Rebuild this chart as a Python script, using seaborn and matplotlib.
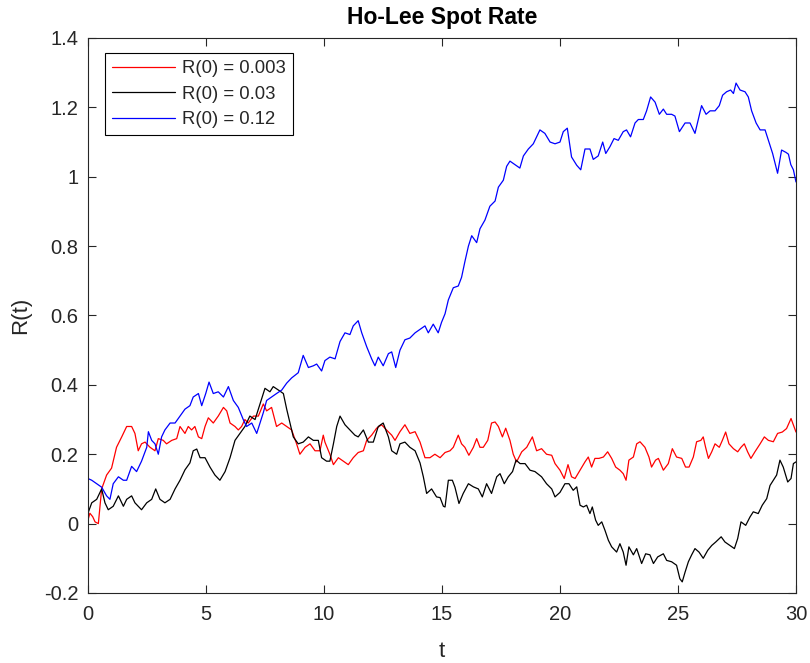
import matplotlib
matplotlib.use("Agg")
import matplotlib.pyplot as plt
import seaborn as sns
import pandas as pd

# Simulated Ho-Lee short-rate paths for three starting values
t_red = [0.00, 0.08, 0.20, 0.30, 0.44, 0.58, 0.79, 1.00, 1.21, 1.43, 1.64, 1.85, 1.99, 2.13, 2.27,
         2.42, 2.63, 2.84, 2.98, 3.19, 3.33, 3.55, 3.76, 3.90, 4.11, 4.25, 4.39, 4.53, 4.68, 4.82,
         4.96, 5.10, 5.31, 5.52, 5.74, 5.88, 6.02, 6.23, 6.37, 6.51, 6.65, 6.79, 7.01, 7.22, 7.43,
         7.57, 7.78, 7.99, 8.21, 8.42, 8.63, 8.84, 8.98, 9.20, 9.41, 9.62, 9.83, 9.97, 10.04, 10.25,
         10.40, 10.61, 10.82, 11.03, 11.24, 11.45, 11.67, 11.81, 12.02, 12.23, 12.44, 12.65, 12.87,
         13.01, 13.22, 13.43, 13.64, 13.86, 14.07, 14.28, 14.49, 14.70, 14.92, 15.13, 15.34, 15.48,
         15.69, 15.83, 15.97, 16.14, 16.33, 16.47, 16.61, 16.75, 16.94, 17.10, 17.25, 17.39, 17.56,
         17.70, 17.88, 18.02, 18.16, 18.38, 18.59, 18.83, 19.01, 19.22, 19.43, 19.65, 19.79, 20.00,
         20.18, 20.34, 20.49, 20.64, 20.85, 21.06, 21.20, 21.34, 21.48, 21.65, 21.84, 22.02, 22.19,
         22.36, 22.54, 22.68, 22.80, 22.92, 23.11, 23.25, 23.39, 23.60, 23.77, 23.88, 24.05, 24.17,
         24.38, 24.59, 24.76, 24.94, 25.16, 25.32, 25.47, 25.65, 25.79, 25.97, 26.07, 26.17, 26.29,
         26.43, 26.57, 26.75, 26.88, 27.02, 27.16, 27.35, 27.53, 27.67, 27.81, 27.95, 28.09, 28.26,
         28.48, 28.66, 28.83, 29.04, 29.22, 29.42, 29.60, 29.79, 29.89, 30.00]
r_red = [0.010, 0.030, 0.020, 0.005, 0.000, 0.100, 0.140, 0.160, 0.220, 0.250, 0.280, 0.280, 0.260,
         0.210, 0.230, 0.235, 0.220, 0.210, 0.245, 0.240, 0.230, 0.240, 0.245, 0.280, 0.260, 0.280,
         0.270, 0.280, 0.250, 0.245, 0.280, 0.305, 0.290, 0.310, 0.335, 0.325, 0.290, 0.280, 0.270,
         0.280, 0.300, 0.290, 0.310, 0.310, 0.345, 0.325, 0.335, 0.280, 0.290, 0.280, 0.270, 0.230,
         0.200, 0.220, 0.230, 0.210, 0.210, 0.255, 0.235, 0.200, 0.170, 0.190, 0.180, 0.170, 0.190,
         0.205, 0.210, 0.240, 0.255, 0.275, 0.285, 0.270, 0.255, 0.240, 0.265, 0.285, 0.260, 0.265,
         0.235, 0.190, 0.190, 0.200, 0.190, 0.205, 0.210, 0.220, 0.255, 0.230, 0.220, 0.197, 0.220,
         0.245, 0.220, 0.220, 0.240, 0.290, 0.293, 0.280, 0.250, 0.275, 0.240, 0.200, 0.178, 0.207,
         0.220, 0.250, 0.210, 0.216, 0.200, 0.197, 0.173, 0.154, 0.130, 0.170, 0.135, 0.130, 0.154,
         0.178, 0.192, 0.163, 0.188, 0.188, 0.192, 0.207, 0.188, 0.163, 0.154, 0.144, 0.125, 0.183,
         0.192, 0.230, 0.236, 0.220, 0.192, 0.163, 0.183, 0.188, 0.154, 0.173, 0.216, 0.192, 0.188,
         0.163, 0.163, 0.192, 0.236, 0.240, 0.250, 0.220, 0.188, 0.207, 0.230, 0.220, 0.240, 0.264,
         0.230, 0.216, 0.207, 0.220, 0.230, 0.207, 0.188, 0.207, 0.230, 0.250, 0.240, 0.236, 0.260,
         0.264, 0.274, 0.303, 0.284, 0.264]

t_black = [0.00, 0.16, 0.37, 0.58, 0.72, 0.86, 1.07, 1.29, 1.50, 1.64, 1.85, 1.99, 2.27, 2.49, 2.70,
           2.87, 3.05, 3.26, 3.48, 3.69, 3.90, 4.11, 4.32, 4.46, 4.61, 4.75, 4.96, 5.17, 5.38, 5.59,
           5.81, 6.02, 6.23, 6.44, 6.65, 6.86, 7.08, 7.29, 7.50, 7.71, 7.85, 8.07, 8.28, 8.42, 8.56,
           8.70, 8.91, 9.12, 9.34, 9.55, 9.76, 9.90, 10.11, 10.25, 10.40, 10.54, 10.68, 10.89, 11.10,
           11.31, 11.45, 11.67, 11.88, 12.09, 12.30, 12.51, 12.73, 12.87, 13.08, 13.22, 13.43, 13.64,
           13.86, 14.07, 14.21, 14.35, 14.56, 14.77, 14.92, 15.06, 15.13, 15.27, 15.44, 15.55, 15.72,
           15.90, 16.12, 16.33, 16.54, 16.71, 16.89, 17.10, 17.32, 17.46, 17.64, 17.81, 17.99, 18.14,
           18.31, 18.52, 18.73, 18.94, 19.22, 19.43, 19.65, 19.79, 20.00, 20.21, 20.38, 20.56, 20.71,
           20.85, 20.99, 21.13, 21.27, 21.37, 21.51, 21.62, 21.77, 21.91, 22.05, 22.19, 22.40, 22.54,
           22.68, 22.80, 22.92, 23.11, 23.25, 23.46, 23.63, 23.81, 23.96, 24.14, 24.38, 24.52, 24.73,
           24.94, 25.08, 25.18, 25.30, 25.44, 25.58, 25.72, 25.89, 26.07, 26.26, 26.43, 26.60, 26.83,
           26.99, 27.20, 27.39, 27.53, 27.67, 27.87, 28.05, 28.19, 28.40, 28.57, 28.76, 28.90, 29.04,
           29.18, 29.32, 29.46, 29.65, 29.79, 29.89, 30.00]
r_black = [0.030, 0.060, 0.070, 0.100, 0.060, 0.040, 0.050, 0.080, 0.050, 0.070, 0.080, 0.060, 0.040,
           0.060, 0.070, 0.100, 0.070, 0.060, 0.070, 0.100, 0.125, 0.155, 0.175, 0.210, 0.215, 0.190,
           0.190, 0.163, 0.140, 0.125, 0.150, 0.190, 0.240, 0.260, 0.280, 0.310, 0.300, 0.345, 0.390,
           0.380, 0.395, 0.385, 0.375, 0.330, 0.290, 0.250, 0.230, 0.235, 0.250, 0.240, 0.240, 0.190,
           0.180, 0.180, 0.230, 0.280, 0.310, 0.285, 0.270, 0.255, 0.250, 0.270, 0.235, 0.235, 0.280,
           0.290, 0.250, 0.210, 0.200, 0.230, 0.235, 0.220, 0.210, 0.175, 0.135, 0.087, 0.100, 0.077,
           0.075, 0.050, 0.048, 0.125, 0.125, 0.105, 0.058, 0.087, 0.115, 0.106, 0.100, 0.077, 0.115,
           0.087, 0.135, 0.144, 0.115, 0.135, 0.150, 0.183, 0.173, 0.173, 0.154, 0.150, 0.135, 0.115,
           0.100, 0.077, 0.090, 0.115, 0.115, 0.096, 0.106, 0.053, 0.048, 0.053, 0.029, 0.048, 0.010,
           -0.005, 0.005, -0.020, -0.048, -0.067, -0.082, -0.058, -0.082, -0.120, -0.067, -0.090,
           -0.072, -0.115, -0.087, -0.090, -0.115, -0.096, -0.087, -0.106, -0.110, -0.120, -0.159,
           -0.168, -0.140, -0.110, -0.090, -0.072, -0.082, -0.100, -0.077, -0.063, -0.053, -0.038,
           -0.053, -0.063, -0.072, -0.043, 0.005, -0.005, 0.019, 0.034, 0.029, 0.053, 0.072, 0.110,
           0.125, 0.140, 0.183, 0.163, 0.120, 0.130, 0.173, 0.178]

t_blue = [0.00, 0.16, 0.37, 0.58, 0.79, 0.93, 1.07, 1.29, 1.50, 1.64, 1.85, 2.06, 2.27, 2.49, 2.56,
          2.70, 2.84, 2.98, 3.12, 3.26, 3.48, 3.69, 3.90, 4.11, 4.32, 4.46, 4.68, 4.82, 4.99, 5.13,
          5.31, 5.52, 5.74, 5.95, 6.16, 6.37, 6.58, 6.72, 6.94, 7.15, 7.29, 7.43, 7.57, 7.78, 7.99,
          8.21, 8.42, 8.63, 8.91, 9.12, 9.34, 9.55, 9.69, 9.90, 10.04, 10.25, 10.47, 10.68, 10.89,
          11.10, 11.24, 11.45, 11.60, 11.81, 12.02, 12.16, 12.30, 12.51, 12.73, 12.87, 13.04, 13.22,
          13.43, 13.64, 13.86, 14.07, 14.28, 14.42, 14.63, 14.84, 14.98, 15.13, 15.27, 15.48, 15.69,
          15.83, 15.97, 16.12, 16.26, 16.47, 16.61, 16.82, 17.03, 17.25, 17.39, 17.60, 17.74, 17.88,
          18.09, 18.30, 18.45, 18.66, 18.87, 19.01, 19.15, 19.36, 19.58, 19.79, 20.00, 20.14, 20.31,
          20.49, 20.71, 20.88, 21.06, 21.27, 21.41, 21.62, 21.81, 21.94, 22.12, 22.29, 22.47, 22.68,
          22.82, 22.99, 23.18, 23.32, 23.53, 23.67, 23.84, 24.03, 24.21, 24.38, 24.52, 24.73, 24.87,
          25.06, 25.30, 25.51, 25.72, 25.86, 26.00, 26.19, 26.36, 26.57, 26.75, 26.89, 27.06, 27.23,
          27.35, 27.46, 27.63, 27.84, 27.98, 28.12, 28.31, 28.48, 28.69, 28.83, 29.01, 29.22, 29.39,
          29.58, 29.68, 29.78, 29.89, 30.00]
r_blue = [0.130, 0.125, 0.115, 0.105, 0.080, 0.070, 0.115, 0.135, 0.125, 0.125, 0.165, 0.150, 0.180,
          0.220, 0.265, 0.240, 0.230, 0.200, 0.250, 0.270, 0.290, 0.290, 0.310, 0.330, 0.340, 0.365,
          0.375, 0.340, 0.375, 0.408, 0.375, 0.380, 0.365, 0.395, 0.355, 0.335, 0.300, 0.280, 0.290,
          0.260, 0.290, 0.320, 0.355, 0.365, 0.375, 0.385, 0.405, 0.420, 0.435, 0.485, 0.450, 0.455,
          0.460, 0.440, 0.470, 0.480, 0.475, 0.525, 0.550, 0.545, 0.570, 0.585, 0.550, 0.510, 0.475,
          0.455, 0.480, 0.455, 0.490, 0.495, 0.450, 0.500, 0.530, 0.535, 0.550, 0.560, 0.570, 0.550,
          0.575, 0.550, 0.580, 0.605, 0.645, 0.680, 0.685, 0.710, 0.755, 0.800, 0.830, 0.810, 0.850,
          0.875, 0.915, 0.930, 0.970, 0.990, 1.030, 1.045, 1.035, 1.025, 1.060, 1.080, 1.095, 1.115,
          1.135, 1.125, 1.100, 1.095, 1.100, 1.130, 1.140, 1.057, 1.033, 1.020, 1.080, 1.080, 1.050,
          1.060, 1.100, 1.067, 1.087, 1.110, 1.105, 1.130, 1.135, 1.115, 1.155, 1.165, 1.165, 1.190,
          1.230, 1.215, 1.180, 1.195, 1.180, 1.180, 1.175, 1.130, 1.155, 1.155, 1.125, 1.165, 1.205,
          1.180, 1.190, 1.190, 1.205, 1.235, 1.245, 1.250, 1.240, 1.270, 1.250, 1.245, 1.230, 1.190,
          1.155, 1.135, 1.135, 1.105, 1.067, 1.010, 1.077, 1.070, 1.065, 1.035, 1.020, 0.985]

labels = ["R(0) = 0.003", "R(0) = 0.03", "R(0) = 0.12"]
colors = ["#FF0000", "#000000", "#0000FF"]

x_ticks = [0, 5, 10, 15, 20, 25, 30]
y_ticks = [-0.2, 0, 0.2, 0.4, 0.6, 0.8, 1, 1.2, 1.4]

sns.set_theme(style="white")
plt.rcParams["font.family"] = ["Liberation Sans", "DejaVu Sans"]
plt.rcParams["axes.unicode_minus"] = False

fig = plt.figure(figsize=(8.1, 6.63), dpi=100)
ax = fig.add_axes([0.1086, 0.1056, 0.8741, 0.8371])

series = [(t_red, r_red), (t_black, r_black), (t_blue, r_blue)]
for (t, r), lab, col in zip(series, labels, colors):
    df = pd.DataFrame({"t": t, "R": r})
    sns.lineplot(data=df, x="t", y="R", ax=ax, color=col, linewidth=0.9,
                 label=lab, estimator=None, sort=False)

ax.set_xlim(0, 30)
ax.set_ylim(-0.2, 1.4)
ax.set_xticks(x_ticks)
ax.set_yticks(y_ticks)
ax.set_xticklabels([f"{v:g}" for v in x_ticks])
ax.set_yticklabels([f"{v:g}" for v in y_ticks])

axis_gray = "#262626"
for side in ["left", "right", "top", "bottom"]:
    ax.spines[side].set_visible(True)
    ax.spines[side].set_color(axis_gray)
    ax.spines[side].set_linewidth(0.8)
ax.tick_params(direction="in", length=6, width=0.8, colors=axis_gray,
               labelsize=14.5, top=True, right=True, left=True, bottom=True)
ax.tick_params(axis="x", pad=9)
ax.tick_params(axis="y", pad=7)
ax.tick_params(axis="both", labelcolor=axis_gray)

ax.set_title("Ho-Lee Spot Rate", fontsize=16.5, fontweight="bold", color="black", pad=10)
ax.set_xlabel("t", fontsize=16, color=axis_gray, labelpad=12)
ax.set_ylabel("R(t)", fontsize=16, color=axis_gray, labelpad=9)

leg = ax.legend(loc="upper left", bbox_to_anchor=(0.024, 0.973), fontsize=13.3,
                frameon=True, fancybox=False, edgecolor="black", framealpha=1,
                handlelength=3.4, borderpad=0.4, labelspacing=0.45, handletextpad=0.35,
                borderaxespad=0)
leg.get_frame().set_linewidth(0.8)
for line in leg.get_lines():
    line.set_linewidth(0.9)

fig.savefig("out.png", dpi=100, facecolor="white")
